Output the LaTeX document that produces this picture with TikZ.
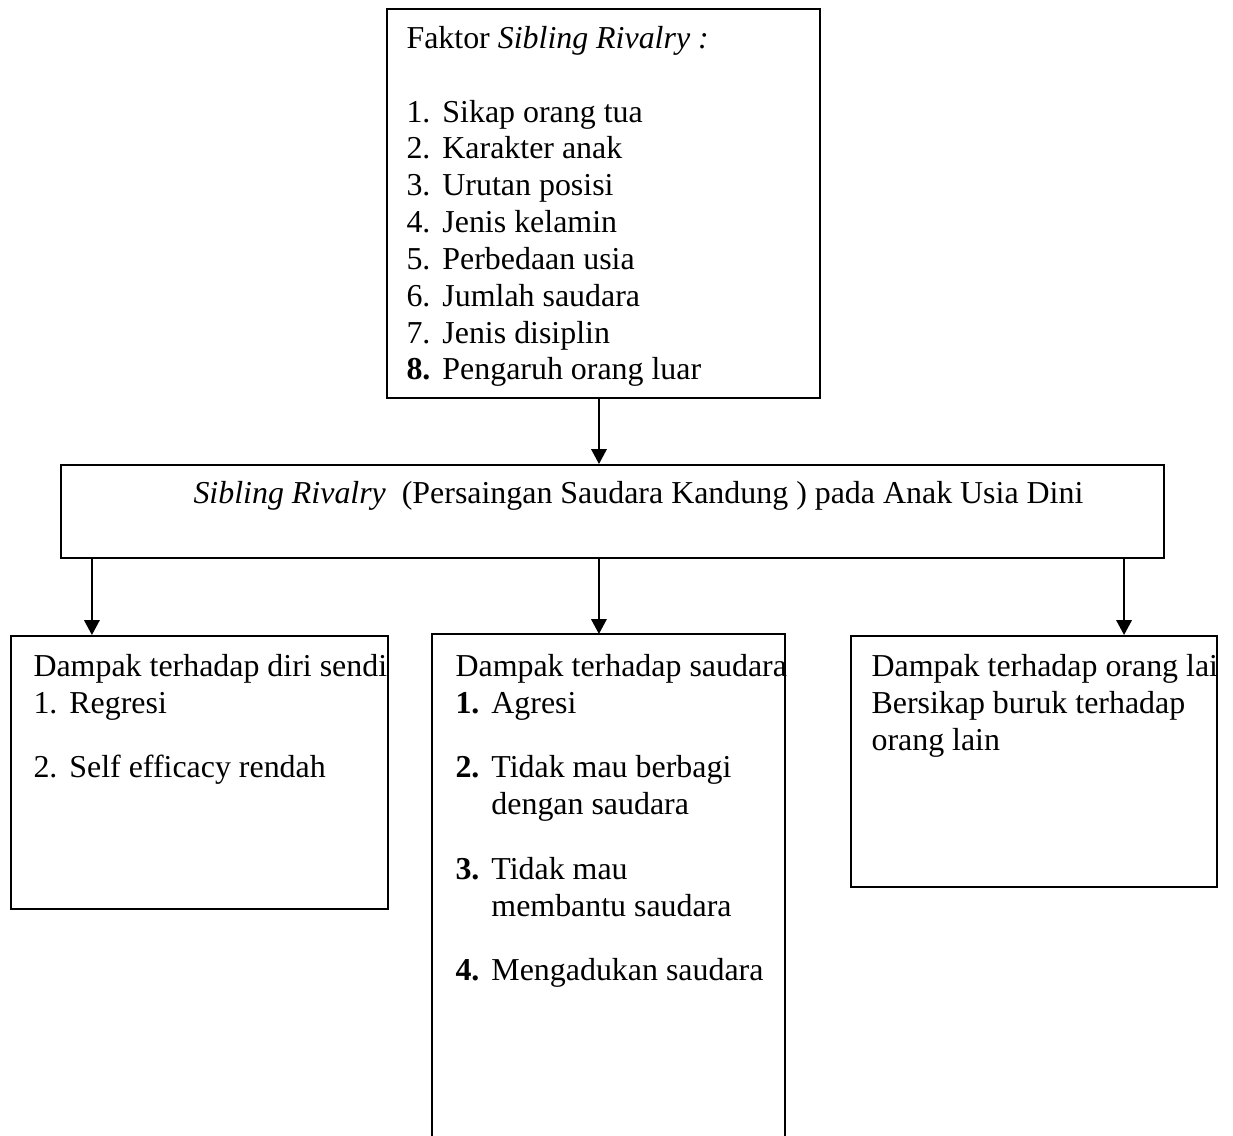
\documentclass[tikz,border=0pt]{standalone}
\usepackage{fontspec}
\setmainfont{Liberation Serif}
\usepackage{tikz}
\usetikzlibrary{arrows.meta}
\usetikzlibrary{positioning}

\newcommand{\pxu}{0.376pt}
\newcommand{\nr}[1]{\makebox[13.5pt][l]{#1}}

\tikzset{
	box/.style={draw, line width=0.75pt, anchor=north west, inner sep=0pt},
	txt/.style={anchor=north west, inner sep=0pt, align=left, font=\fontsize{12}{13.85}\selectfont},
	arr/.style={line width=0.75pt, -{Triangle[length=5.6pt,width=5.8pt]}}
}

\begin{document}
\begin{tikzpicture}[x=0.376pt, y=-0.376pt]
	\useasboundingbox (0,0) rectangle (1233,1135);
	% boxes
	\node[box, minimum width=433*\pxu, minimum height=389*\pxu] (faktor) at (386,8) {};
	\node[box, minimum width=1103*\pxu, minimum height=93*\pxu] (mid) at (60,464) {};
	\node[box, minimum width=377*\pxu, minimum height=273*\pxu] (diri) at (10,635) {};
	\node[box, draw=none, minimum width=351*\pxu, minimum height=501*\pxu] (tengah) at (432,634) {};
	\node[box, minimum width=366*\pxu, minimum height=251*\pxu] (lain) at (850,635) {};
	\draw[line width=0.75pt] (tengah.south west) |- (tengah.north east) -- (tengah.south east);
	% texts
	\node[txt] (ftxt) at ([shift={(20,14.3)}]faktor.north west) {\strut Faktor \textit{Sibling Rivalry :}\\[13.8pt]
		\nr{1.}Sikap orang tua\\
		\nr{2.}Karakter anak\\
		\nr{3.}Urutan posisi\\
		\nr{4.}Jenis kelamin\\
		\nr{5.}Perbedaan usia\\
		\nr{6.}Jumlah saudara\\
		\nr{7.}Jenis disiplin\\
		\nr{\textbf{8.}}Pengaruh orang luar};
	\node[txt] (mtxt) at ([shift={(133,13)}]mid.north west) {\strut\textit{Sibling Rivalry}~\ (Persaingan Saudara Kandung~) pada Anak Usia Dini};
	\node[txt] (dtxt) at ([shift={(23,15.3)}]diri.north west) {\strut Dampak terhadap diri sendi\\
		\nr{1.}Regresi\\[10.4pt]
		\nr{2.}Self efficacy rendah};
	\node[txt] (stxt) at ([shift={(23,16.3)}]tengah.north west) {\strut Dampak terhadap saudara\\
		\nr{\textbf{1.}}Agresi\\[10.4pt]
		\nr{\textbf{2.}}Tidak mau berbagi\\
		\nr{}dengan saudara\\[10.4pt]
		\nr{\textbf{3.}}Tidak mau\\
		\nr{}membantu saudara\\[10.4pt]
		\nr{\textbf{4.}}Mengadukan saudara};
	\node[txt] (otxt) at ([shift={(21,15.3)}]lain.north west) {\strut Dampak terhadap orang lai\\
		Bersikap buruk terhadap\\
		orang lain};
	% arrows
	\draw[arr] ([xshift=-1.7pt]faktor.south) -- ([xshift=-1.7pt]faktor.south |- mid.north);
	\draw[arr] ([xshift=12pt]mid.south west) -- ([xshift=12pt]mid.south west |- diri.north);
	\draw[arr] ([xshift=-3.6pt]tengah.north |- mid.south) -- ([xshift=-3.6pt]tengah.north);
	\draw[arr] ([xshift=-15.4pt]mid.south east) -- ([xshift=-15.4pt]mid.south east |- lain.north);
\end{tikzpicture}
\end{document}
